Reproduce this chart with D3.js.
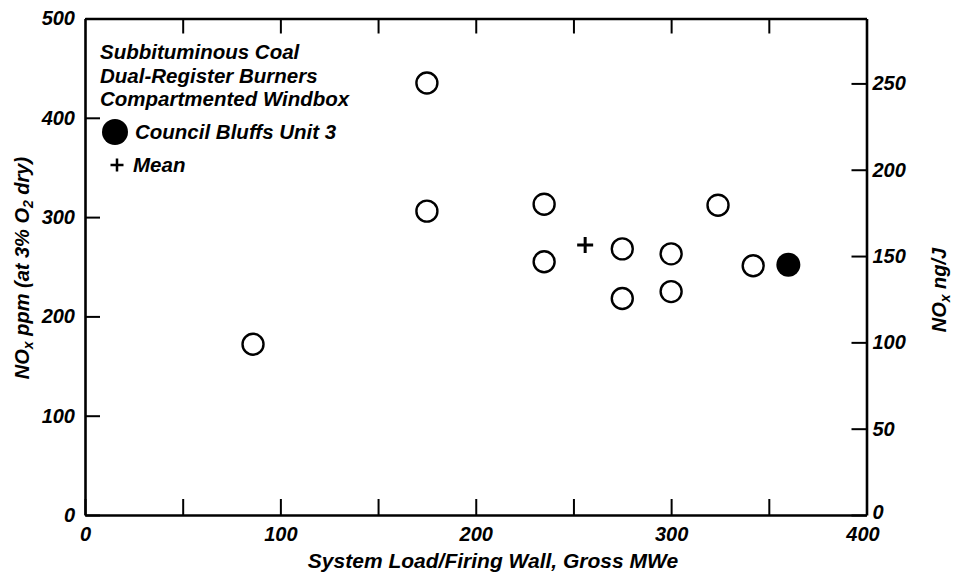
<!DOCTYPE html>
<html>
<head>
<meta charset="utf-8">
<script src="https://cdn.jsdelivr.net/npm/d3@7"></script>
<style>
  body { margin: 0; background: #fff; }
  text { font-family: "Liberation Sans", Arial, sans-serif; font-style: italic; font-weight: bold; fill: #000; }
</style>
</head>
<body>
<script>
// dati: carico (MWe) e NOx (ppm)
var loadMWe = [86, 175, 175, 235, 235, 275, 275, 300, 300, 324, 342];
var noxPpm  = [172, 435, 306, 313, 255, 268, 218, 263, 225, 312, 251];
var councilLoad = [360];
var councilNox  = [252];
var meanLoad = [256];
var meanNox  = [272];

var legendLines = ["Subbituminous Coal", "Dual-Register Burners", "Compartmented Windbox"];
var xTicks = [0, 50, 100, 150, 200, 250, 300, 350, 400];
var yTicks = [0, 100, 200, 300, 400, 500];
var ngTicks = [0, 50, 100, 150, 200, 250];
var ppmToNg = 0.5752; // fattore di conversione ppm -> ng/J

var totalWidth = 954, totalHeight = 574;
var margin = {top: 18.5, right: 87.5, bottom: 59, left: 85};
var width = totalWidth - margin.left - margin.right;
var height = totalHeight - margin.top - margin.bottom;

var svg = d3.select("body").append("svg")
  .attr("width", totalWidth)
  .attr("height", totalHeight);

var g = svg.append("g")
  .attr("transform", "translate(" + margin.left + "," + margin.top + ")");

var x = d3.scaleLinear().domain([0, 400]).range([0, width]);
var y = d3.scaleLinear().domain([0, 500]).range([height, 0]);
var yRight = d3.scaleLinear().domain([0, 500 * ppmToNg]).range([height, 0]);

function styleAxis(sel) {
  sel.select(".domain").attr("stroke-width", 2.6);
  sel.selectAll(".tick line").attr("stroke-width", 2);
  sel.selectAll("text").attr("font-size", "20px");
}

// croce "+" disegnata come path
function plusPath(s) {
  return "M" + (-s) + ",0H" + s + "M0," + (-s) + "V" + s;
}

// asse x in basso
var xAx = g.append("g")
  .attr("transform", "translate(0," + height + ")")
  .call(d3.axisBottom(x).tickValues(xTicks).tickSize(-16).tickSizeOuter(0).tickPadding(12)
    .tickFormat(function(d) { return d % 100 == 0 ? d : ""; }))
  .call(styleAxis);
xAx.selectAll(".tick text").filter(function(d) { return d == 400; }).attr("dx", -4);

// asse x in alto (solo tacche)
g.append("g")
  .call(d3.axisTop(x).tickValues(xTicks.slice(1, -1)).tickSize(-15).tickSizeOuter(0).tickFormat(""))
  .call(styleAxis);

// asse y sinistro
g.append("g")
  .call(d3.axisLeft(y).tickValues(yTicks).tickSize(-15).tickSizeOuter(0).tickPadding(10))
  .call(styleAxis);

// asse y destro in ng/J
var yrAx = g.append("g")
  .attr("transform", "translate(" + width + ",0)")
  .call(d3.axisRight(yRight).tickValues(ngTicks).tickSize(-15).tickSizeOuter(0).tickPadding(6))
  .call(styleAxis);
yrAx.selectAll(".tick text").filter(function(d) { return d == 0; }).attr("dy", "0.15em");

// punti aperti
var pts = loadMWe.map(function(v, i) { return [v, noxPpm[i]]; });
g.selectAll(".open").data(pts).enter().append("circle")
  .attr("class", "open")
  .attr("cx", function(d) { return x(d[0]); })
  .attr("cy", function(d) { return y(d[1]); })
  .attr("r", 10.5)
  .attr("fill", "#fff")
  .attr("stroke", "#000")
  .attr("stroke-width", 2.4);

// Council Bluffs Unit 3
g.selectAll(".filled").data(councilLoad).enter().append("circle")
  .attr("class", "filled")
  .attr("cx", function(d) { return x(d); })
  .attr("cy", function(d, i) { return y(councilNox[i]); })
  .attr("r", 12)
  .attr("fill", "#000");

// media
g.selectAll(".mean").data(meanLoad).enter().append("path")
  .attr("class", "mean")
  .attr("transform", function(d, i) { return "translate(" + x(d) + "," + y(meanNox[i]) + ")"; })
  .attr("d", plusPath(8))
  .attr("stroke", "#000")
  .attr("stroke-width", 3);

// legenda
var leg = svg.append("g");
legendLines.forEach(function(t, i) {
  leg.append("text")
    .attr("x", 100).attr("y", 59 + i * 23.5)
    .attr("font-size", "20.5px")
    .text(t);
});
leg.append("circle").attr("cx", 115).attr("cy", 132).attr("r", 13).attr("fill", "#000");
leg.append("text").attr("x", 135).attr("y", 139).attr("font-size", "20.5px").text("Council Bluffs Unit 3");
leg.append("path").attr("transform", "translate(117,165)").attr("d", plusPath(6.5))
  .attr("stroke", "#000").attr("stroke-width", 2.5);
leg.append("text").attr("x", 133).attr("y", 172).attr("font-size", "20.5px").text("Mean");

// titolo asse x
svg.append("text")
  .attr("x", 493).attr("y", 568)
  .attr("text-anchor", "middle")
  .attr("font-size", "21px")
  .text("System Load/Firing Wall, Gross MWe");

// titolo asse y sinistro
var yl = svg.append("text")
  .attr("transform", "translate(29,268) rotate(-90)")
  .attr("text-anchor", "middle")
  .attr("font-size", "20px");
yl.append("tspan").text("NO");
yl.append("tspan").attr("font-size", "14px").attr("dy", 4).text("x");
yl.append("tspan").attr("dy", -4).text(" ppm (at 3% O");
yl.append("tspan").attr("font-size", "14px").attr("dy", 4).text("2");
yl.append("tspan").attr("dy", -4).text(" dry)");

// titolo asse y destro
var yr = svg.append("text")
  .attr("transform", "translate(946,290) rotate(-90)")
  .attr("text-anchor", "middle")
  .attr("font-size", "20px");
yr.append("tspan").text("NO");
yr.append("tspan").attr("font-size", "14px").attr("dy", 4).text("x");
yr.append("tspan").attr("dy", -4).text(" ng/J");
</script>
</body>
</html>
